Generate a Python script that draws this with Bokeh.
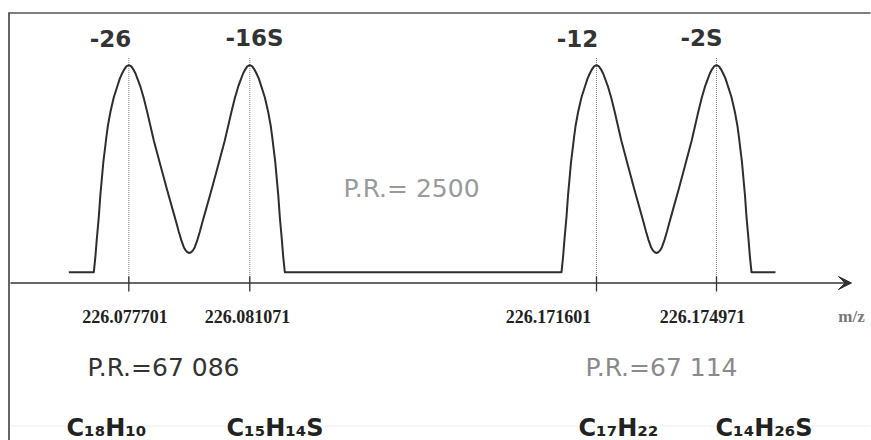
from bokeh.plotting import figure
from bokeh.models import Range1d, Arrow, VeeHead
from bokeh.core.properties import value
from bokeh.embed import file_html
from bokeh.resources import INLINE
import numpy as np

# ---------------- data ----------------
peak_labels = ["-26", "-16S", "-12", "-2S"]
mz_labels = ["226.077701", "226.081071", "226.171601", "226.174971"]
formulas = ["C\u2081\u2088H\u2081\u2080", "C\u2081\u2085H\u2081\u2084S",
            "C\u2081\u2087H\u2082\u2082", "C\u2081\u2084H\u2082\u2086S"]
peak_pos = [128.3, 249.3, 596.0, 716.0]       # schematic (broken) m/z axis positions
peak_height = [100, 100, 100, 100]             # relative intensity
high_res_labels = ["P.R.=67 086", "P.R.=67 114"]
low_res_label = "P.R.= 2500"
axis_label = "m/z"
# peak profile at P.R. 2500 (offset from peak, fraction of height)
outer_dx = [-35, -33.5, -32, -30, -28.5, -27, -25.5, -24, -22.5, -21, -18.4, -15,
            -11.7, -9, -6.7, -4.5, -2.5, 0]
outer_h = [0, 0.07, 0.16, 0.267, 0.37, 0.45, 0.53, 0.59, 0.65, 0.705, 0.774, 0.845,
           0.895, 0.935, 0.96, 0.98, 0.994, 1.0]
inner_dx = [0, 2.5, 4.5, 6.7, 9, 11.7, 15, 18.4, 21.7, 25, 31.7, 38.4, 45, 47.5, 50,
            52.5, 55, 56.5, 58, 59.3, 60.5]
inner_h = [1.0, 0.994, 0.98, 0.96, 0.93, 0.895, 0.84, 0.774, 0.705, 0.636, 0.515,
           0.396, 0.283, 0.24, 0.195, 0.155, 0.121, 0.108, 0.099, 0.095, 0.093]
baseline_start = 68.3
baseline_end = 775.0

# ---------------- layout helpers (screen px -> data) ----------------
W, H = 871, 440
BASE_PX, PX_PER_UNIT = 271.7, 2.07


def sy(py):
    return (BASE_PX - py) / PX_PER_UNIT


def doublet(pa, pb, ha, hb):
    s = ((pb - pa) / 2) / inner_dx[-1]
    odx, oh = np.array(outer_dx, float), np.array(outer_h)
    idx, ih = np.array(inner_dx, float), np.array(inner_h)
    xs = list(pa + odx) + list(pa + idx[1:] * s) + list(pb - idx[::-1][1:] * s) + list(pb - odx[::-1][1:])
    ys = list(oh * ha) + list(ih[1:] * ha) + list(ih[::-1][1:] * hb) + list(oh[::-1][1:] * hb)
    return xs, ys


x1, y1 = doublet(peak_pos[0], peak_pos[1], peak_height[0], peak_height[1])
x2, y2 = doublet(peak_pos[2], peak_pos[3], peak_height[2], peak_height[3])
curve_x = [baseline_start] + x1 + x2 + [baseline_end]
curve_y = [0] + y1 + y2 + [0]

p = figure(width=W, height=H, x_range=Range1d(0, W), y_range=Range1d(sy(H), sy(0)),
           output_backend="svg", toolbar_location=None, min_border=0,
           x_axis_type=None, y_axis_type=None)
p.grid.visible = False
p.outline_line_color = None
p.outline_line_alpha = 0
p.background_fill_color = "white"
p.border_fill_color = "white"

# frame of the scanned figure (left and top edges only)
p.line([8.5, 8.5], [sy(12), sy(H)], line_color="#666666", line_width=2)
p.line([8, W - 1], [sy(12.5), sy(12.5)], line_color="#555555", line_width=1.5)
p.line([10, W - 1], [sy(425.5), sy(425.5)], line_color="#eeeeee", line_width=1)

# dotted guides and ticks at the exact masses
for xp, hp in zip(peak_pos, peak_height):
    p.line([xp, xp], [hp + 3.5, sy(282.5)], line_color="#777777", line_width=1, line_dash="1 1")
    p.line([xp, xp], [sy(276), sy(291)], line_color="#333333", line_width=1.3)

# m/z axis with arrow
p.add_layout(Arrow(end=VeeHead(size=13, fill_color="#333333", line_color="#333333"),
                   x_start=10, y_start=sy(282.5), x_end=851, y_end=sy(282.5),
                   line_color="#333333", line_width=1.5))

# spectrum at low resolving power
p.line(curve_x, curve_y, line_color="#2e2e2e", line_width=2, line_join="round")

# peak labels
lab_x = [110, 254, 577, 701]
p.text(lab_x, [sy(37.5)] * 4, text=peak_labels, text_align="center", text_baseline="middle",
       text_font=value("DejaVu Sans"), text_font_style="bold", text_font_size="23px",
       text_color="#333333")

# exact masses
mz_x = [124.5, 247, 548, 702]
p.text(mz_x, [sy(316)] * 4, text=mz_labels, text_align="center", text_baseline="middle",
       text_font=value("Liberation Serif"), text_font_style="bold", text_font_size="18px",
       text_color="#222222")
p.text([851], [sy(316)], text=[axis_label], text_align="center", text_baseline="middle",
       text_font=value("Liberation Serif"), text_font_style="bold", text_font_size="17px",
       text_color="#777777")

# resolving power annotations
p.text([343], [sy(188)], text=[low_res_label], text_align="left", text_baseline="middle",
       text_font=value("DejaVu Sans"), text_font_size="25px", text_color="#9a9a9a")
p.text([87, 585], [sy(367)] * 2, text=high_res_labels, text_align="left",
       text_baseline="middle", text_font=value("DejaVu Sans"), text_font_size="25px",
       text_color=["#333333", "#8a8a8a"])

# formulas
f_x = [66, 226, 578, 715]
p.text(f_x, [sy(427)] * 4, text=formulas, text_align="left", text_baseline="alphabetic",
       text_font=value("DejaVu Sans"), text_font_style="bold", text_font_size="24px",
       text_color="#222222")

open("out.html", "w").write(file_html(p, INLINE))
